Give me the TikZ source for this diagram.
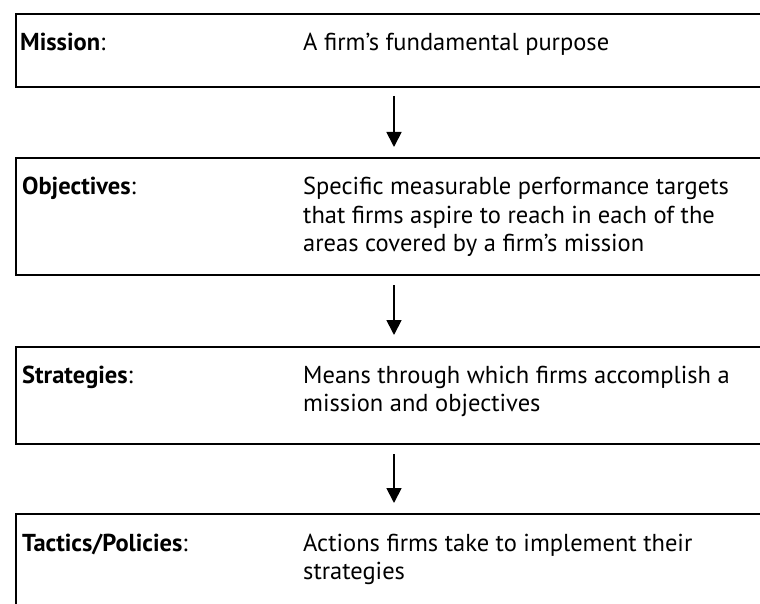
\documentclass[tikz,border=0pt]{standalone}
\usepackage{fontspec}
\setmainfont{PT Sans}
\usetikzlibrary{arrows.meta}
\tikzset{
  box/.style={draw=black, line width=2pt, rectangle, anchor=north west, inner sep=0pt},
  lbl/.style={anchor=base west, inner sep=0pt, font=\fontsize{24.5}{28.5}\selectfont},
  desc/.style={anchor=base west, inner sep=0pt, font=\fontsize{24.5}{28.5}\selectfont},
  arr/.style={line width=1.8pt, -{Triangle[width=15pt,length=15pt]}},
}
\newcommand{\desclines}[1]{\parbox[t]{450pt}{#1}}
\begin{document}
\begin{tikzpicture}[x=1pt,y=-1pt]
\useasboundingbox (0,0) rectangle (760,604);
\clip (0,0) rectangle (760,604);
% boxes
\node[box, minimum width=780pt, minimum height=73pt] (b1) at (15,13) {};
\node[box, minimum width=780pt, minimum height=117pt] (b2) at (15,157) {};
\node[box, minimum width=780pt, minimum height=97pt] (b3) at (15,346) {};
\node[box, minimum width=780pt, minimum height=140pt] (b4) at (15,513) {};
% labels
\node[lbl] (l1) at (20,51) {\textbf{Mission}:};
\node[lbl] (l2) at (22,195) {\textbf{Objectives}:};
\node[lbl] (l3) at (22,383) {\textbf{Strategies}:};
\node[lbl] (l4) at (22,551) {\textbf{Tactics/Policies}:};
% descriptions
\node[desc] (d1) at (303,51) {A firm’s fundamental purpose};
\node[desc] (d2) at (303,195) {\desclines{Specific measurable performance targets\\that firms aspire to reach in each of the\\areas covered by a firm’s mission}};
\node[desc] (d3) at (303,383) {\desclines{Means through which firms accomplish a\\mission and objectives}};
\node[desc] (d4) at (303,551) {\desclines{Actions firms take to implement their\\strategies}};
% arrows
\coordinate (ax) at (394,0);
\draw[arr, shorten <=8pt, shorten >=10pt] (b1.south -| ax) -- (b2.north -| ax);
\draw[arr, shorten <=9pt, shorten >=11pt] (b2.south -| ax) -- (b3.north -| ax);
\draw[arr, shorten <=9pt, shorten >=10pt] (b3.south -| ax) -- (b4.north -| ax);
\end{tikzpicture}
\end{document}
